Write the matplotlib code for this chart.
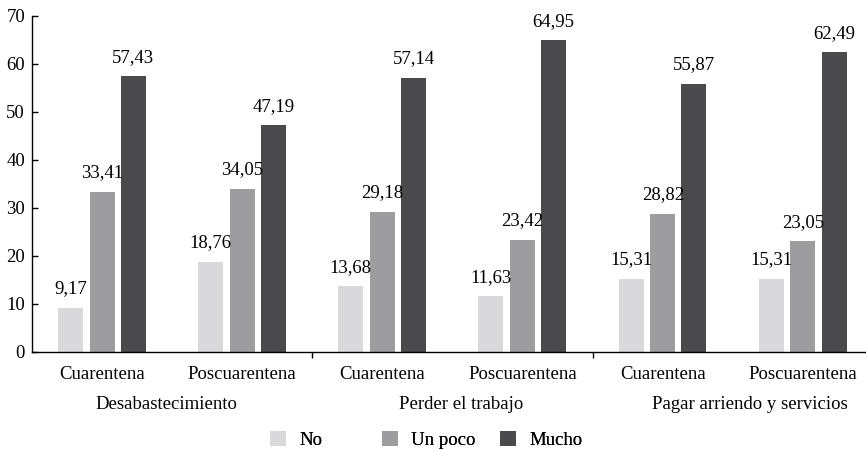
import matplotlib
matplotlib.use("Agg")
import matplotlib.pyplot as plt
import numpy as np
from matplotlib.patches import Patch

plt.rcParams['font.family'] = ['Liberation Serif', 'DejaVu Serif']
plt.rcParams['font.size'] = 13.5

subgroups = ["Cuarentena", "Poscuarentena"] * 3
groups = ["Desabastecimiento", "Perder el trabajo", "Pagar arriendo y servicios"]
series = ["No", "Un poco", "Mucho"]
no_vals = [9.17, 18.76, 13.68, 11.63, 15.31, 15.31]
poco_vals = [33.41, 34.05, 29.18, 23.42, 28.82, 23.05]
mucho_vals = [57.43, 47.19, 57.14, 64.95, 55.87, 62.49]
colors = ["#d9d9db", "#9d9d9f", "#4a4a4c"]

fig = plt.figure(figsize=(8.66, 4.5), dpi=100)
ax = fig.add_axes([32 / 866, 98 / 450, 834 / 866, 336 / 450])

x = np.arange(len(subgroups))
width = 0.178
offsets = [-0.226, 0.0, 0.222]
for vals, off, col in zip([no_vals, poco_vals, mucho_vals], offsets, colors):
    bars = ax.bar(x + off, vals, width, color=col)
    for b, v in zip(bars, vals):
        ax.annotate(f"{v:.2f}".replace(".", ","),
                    (b.get_x() + b.get_width() / 2, v),
                    xytext=(0, 7.5), textcoords="offset points",
                    ha="center", va="bottom")

ax.set_xlim(-0.5, 5.45)
ax.set_ylim(0, 70)
ax.set_yticks(range(0, 71, 10))
ax.spines['top'].set_visible(False)
ax.spines['right'].set_visible(False)
ax.spines['left'].set_linewidth(1.0)
ax.spines['bottom'].set_linewidth(1.0)
ax.tick_params(axis='y', direction='in', length=4.5, width=1.0, pad=5)

ax.set_xticks(x)
ax.set_xticklabels(subgroups)
ax.tick_params(axis='x', which='major', length=0, pad=10)
ax.set_xticks([1.5, 3.5], minor=True)
ax.tick_params(axis='x', which='minor', direction='out', length=4, width=1.0)

# group labels under the subgroup labels
group_x = [0.46, 2.56, 4.62]
for gx, g in zip(group_x, groups):
    ax.text(gx, -11.0, g, ha="center", va="center")

# legend, one entry per slot
leg_x = [270 / 866, 382 / 866, 500 / 866]
for lx, name, col in zip(leg_x, series, colors):
    leg = fig.legend(handles=[Patch(facecolor=col, edgecolor='none', label=name)],
                     loc="center left", bbox_to_anchor=(lx, 1 - 440 / 450),
                     frameon=False, borderpad=0, borderaxespad=0,
                     handlelength=0.85, handleheight=0.85, handletextpad=0.7)
    fig.add_artist(leg)

fig.savefig("out.png", dpi=100)
